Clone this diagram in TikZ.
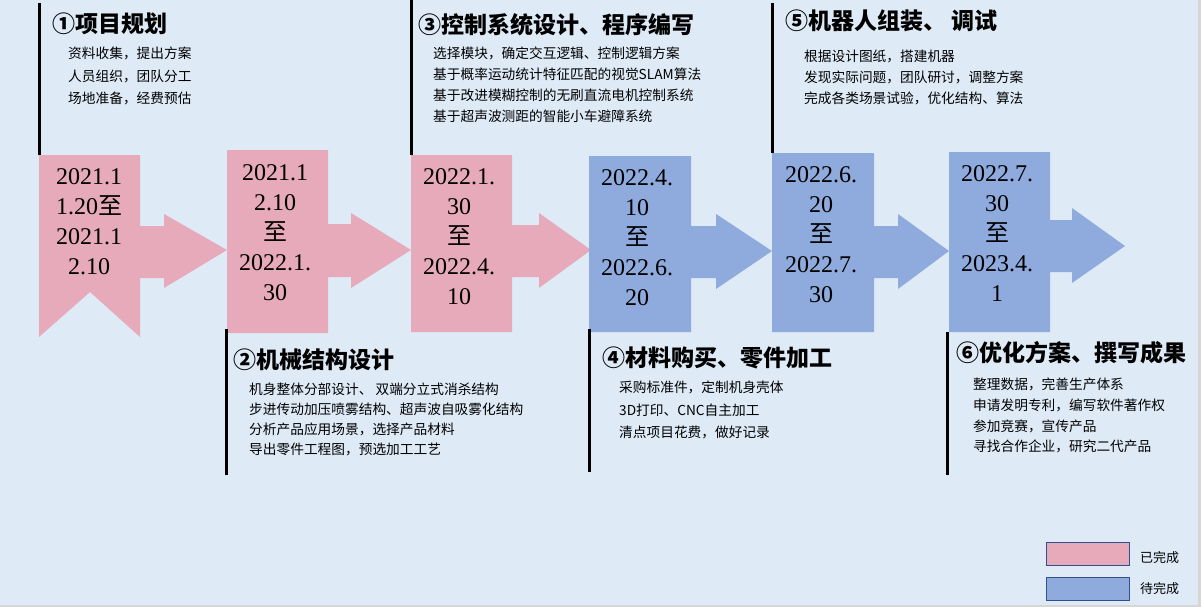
\documentclass[tikz,border=0pt]{standalone}
\usepackage{fontspec}
\setmainfont{Liberation Serif}
\newfontfamily\cjk{Noto Sans CJK SC}
\definecolor{bgblue}{HTML}{DEEAF6}
\definecolor{donepink}{HTML}{E6AABA}
\definecolor{todoblue}{HTML}{8FAADC}
\definecolor{legendline}{HTML}{2F528F}
\definecolor{edgegray}{HTML}{D6D6D6}
\begin{document}
\begin{tikzpicture}[x=1pt,y=-1pt,
  done/.style={fill=donepink},
  todo/.style={fill=todoblue},
  bar/.style={line width=3pt},
  datetext/.style={align=center,inner sep=0pt,font={\fontsize{24}{30}\selectfont}},
  stagetitle/.style={anchor=west,inner sep=0pt,font={\cjk\bfseries\fontsize{23}{27}\selectfont}},
  stagebody/.style={anchor=north west,align=left,inner sep=0pt,font={\cjk\fontsize{13.7}{#1}\selectfont}},
  legendbox/.style={draw=legendline,line width=1pt}]
\fill[edgegray] (0,0) rectangle (1201,607);
\fill[bgblue] (0,0) rectangle (1198,605);
\useasboundingbox (0,0) rectangle (1201,607);
\fill[done] (39,155) -- (140,155) -- (140,226) -- (164,226) -- (164,214) -- (227,250) -- (164,288) -- (164,278) -- (140,278) -- (140,337) -- (90,292) -- (39,337) -- cycle;
\fill[done] (227,150) -- (328,150) -- (328,224) -- (351,224) -- (351,213) -- (411,250) -- (351,288) -- (351,277) -- (328,277) -- (328,333) -- (227,333) -- cycle;
\fill[done] (411,155) -- (512,155) -- (512,225) -- (539,225) -- (539,213) -- (591,250) -- (539,288) -- (539,277) -- (512,277) -- (512,332) -- (411,332) -- cycle;
\fill[todo] (589,156) -- (691,156) -- (691,226) -- (716,226) -- (716,214) -- (772,251) -- (716,289) -- (716,278) -- (691,278) -- (691,332) -- (589,332) -- cycle;
\fill[todo] (772,153) -- (874,153) -- (874,226) -- (898,226) -- (898,214) -- (949,251) -- (898,289) -- (898,278) -- (874,278) -- (874,332) -- (772,332) -- cycle;
\fill[todo] (949,152) -- (1050,152) -- (1050,220) -- (1072,220) -- (1072,208) -- (1125,246) -- (1072,283) -- (1072,272) -- (1050,272) -- (1050,332) -- (949,332) -- cycle;
\node[datetext] (d1) at (89,221.5) {2021.1\\1.20{\cjk 至}\\2021.1\\2.10};
\node[datetext] (d2) at (275,232.5) {2021.1\\2.10\\{\cjk 至}\\2022.1.\\30};
\node[datetext] (d3) at (459,236.5) {2022.1.\\30\\{\cjk 至}\\2022.4.\\10};
\node[datetext] (d4) at (637,237.5) {2022.4.\\10\\{\cjk 至}\\2022.6.\\20};
\node[datetext] (d5) at (821,234.5) {2022.6.\\20\\{\cjk 至}\\2022.7.\\30};
\node[datetext] (d6) at (997,233.5) {2022.7.\\30\\{\cjk 至}\\2023.4.\\1};
\draw[bar] (39.5,3) -- (39.5,155);
\draw[bar] (411.5,0) -- (411.5,155);
\draw[bar] (772,3) -- (772,153);
\draw[bar] (226.3,329) -- (226.3,475);
\draw[bar] (589.3,329) -- (589.3,472);
\draw[bar] (947,332) -- (947,475);
\node[stagetitle] (t1) at (52,24) {①项目规划};
\node[stagebody=22.5] (b1) at (68,47) {资料收集，提出方案\\人员组织，团队分工\\场地准备，经费预估};
\node[stagetitle] (t3) at (418,25) {③控制系统设计、程序编写};
\node[stagebody=21] (b3) at (433,47) {选择模块，确定交互逻辑、控制逻辑方案\\基于概率运动统计特征匹配的视觉SLAM算法\\基于改进模糊控制的无刷直流电机控制系统\\基于超声波测距的智能小车避障系统};
\node[stagetitle] (t5) at (785,21) {⑤机器人组装、 调试};
\node[stagebody=21] (b5) at (804,50) {根据设计图纸，搭建机器\\发现实际问题，团队研讨，调整方案\\完成各类场景试验，优化结构、算法};
\node[stagetitle] (t2) at (233,360) {②机械结构设计};
\node[stagebody=20] (b2) at (249,383) {机身整体分部设计、 双端分立式消杀结构\\步进传动加压喷雾结构、超声波自吸雾化结构\\分析产品应用场景，选择产品材料\\导出零件工程图，预选加工工艺};
\node[stagetitle] (t4) at (602,358) {④材料购买、零件加工};
\node[stagebody=22.5] (b4) at (619,381) {采购标准件，定制机身壳体\\3D打印、CNC自主加工\\清点项目花费，做好记录};
\node[stagetitle] (t6) at (956,353) {⑥优化方案、撰写成果};
\node[stagebody=20.7] (b6) at (973,378) {整理数据，完善生产体系\\申请发明专利，编写软件著作权\\参加竞赛，宣传产品\\寻找合作企业，研究二代产品};
\draw[legendbox,done] (1046,542) rectangle (1129,565);
\draw[legendbox,todo] (1046,577) rectangle (1129,600);
\node[anchor=west,inner sep=0pt,font={\cjk\fontsize{13}{15}\selectfont}] (l1) at (1140,558) {已完成};
\node[anchor=west,inner sep=0pt,font={\cjk\fontsize{13}{15}\selectfont}] (l2) at (1140,589) {待完成};
\end{tikzpicture}
\end{document}
